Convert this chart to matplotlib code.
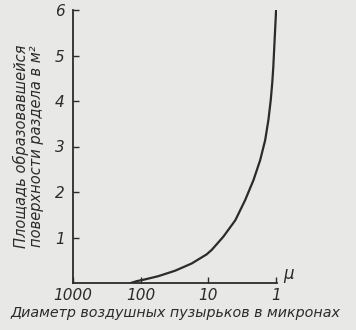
import matplotlib.pyplot as plt

# values
diameter = [140, 115, 86, 55, 31, 17.6, 10.6, 8.9, 6.0, 4.0, 2.87, 2.16, 1.72, 1.45, 1.30,
            1.20, 1.14, 1.10, 1.04, 1.0]
area = [0.0, 0.04, 0.08, 0.15, 0.27, 0.43, 0.63, 0.73, 1.02, 1.38, 1.82, 2.26, 2.70, 3.14, 3.58,
        4.02, 4.40, 4.75, 5.49, 6.0]

x_ticks = [1000, 100, 10, 1]
x_labels = ['1000', '100', '10', '1']
y_ticks = [1, 2, 3, 4, 5, 6]

bg = '#e8e8e6'
ink = '#2b2b2b'

fig = plt.figure(figsize=(3.56, 3.30), dpi=100, facecolor=bg)
ax = fig.add_axes([73 / 356, 47 / 330, 204 / 356, 273 / 330], facecolor=bg)

ax.plot(diameter, area, color=ink, lw=1.6, solid_joinstyle='round')

ax.set_xscale('log')
ax.set_xlim(1000, 0.97)
ax.set_ylim(0, 6)

ax.set_xticks(x_ticks)
ax.set_xticklabels(x_labels)
ax.minorticks_off()
ax.set_yticks(y_ticks)

for s in ['top', 'right']:
    ax.spines[s].set_visible(False)
for s in ['left', 'bottom']:
    ax.spines[s].set_color(ink)
    ax.spines[s].set_linewidth(1.3)

ax.tick_params(axis='both', direction='in', length=4, width=1, color=ink,
               labelcolor=ink, labelsize=11)
ax.tick_params(axis='y', pad=6)
for lab in ax.get_xticklabels() + ax.get_yticklabels():
    lab.set_fontstyle('italic')

ax.set_ylabel('Площадь образовавшейся\nповерхности раздела в м²',
              fontsize=10.5, fontstyle='italic', color=ink, labelpad=8, linespacing=1.0)
ax.set_xlabel('Диаметр воздушных пузырьков в микронах',
              fontsize=10.3, fontstyle='italic', color=ink, labelpad=2)
ax.text(1.03, 0.0, 'μ', transform=ax.transAxes, fontsize=12, fontstyle='italic',
        color=ink, va='bottom', ha='left')

fig.savefig('out.png', dpi=100, facecolor=bg)
